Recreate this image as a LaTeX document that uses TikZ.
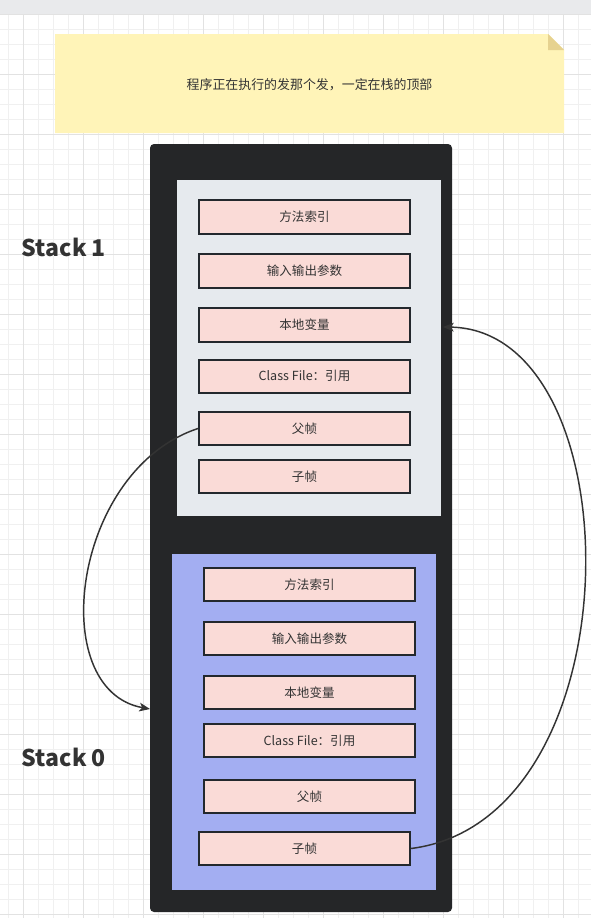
\documentclass[tikz,border=0pt]{standalone}
\usepackage{fontspec}
\setmainfont{Noto Sans CJK SC}
\newfontfamily\labelfont{Noto Sans CJK SC}
\usetikzlibrary{arrows.meta}
\definecolor{bandc}{HTML}{E9EAEC}
\definecolor{gridminor}{HTML}{F0F0F0}
\definecolor{gridmajor}{HTML}{E2E2E2}
\definecolor{notec}{HTML}{FFF4B8}
\definecolor{foldc}{HTML}{E6D290}
\definecolor{outerc}{HTML}{252628}
\definecolor{panelone}{HTML}{E6EAEE}
\definecolor{panelzero}{HTML}{A3AEF2}
\definecolor{boxfill}{HTML}{FADBD7}
\definecolor{boxline}{HTML}{23282D}
\definecolor{txt}{HTML}{333333}
\tikzset{
  framebox/.style={draw=boxline, line width=1.5pt, fill=boxfill, minimum width=158.25pt, minimum height=25.125pt, inner sep=0pt, text=txt, font=\fontsize{9.4pt}{11pt}\selectfont},
  panel/.style={minimum width=198pt, minimum height=252pt, inner sep=0pt},
  stacklabel/.style={text=txt, font=\labelfont\bfseries\fontsize{17.3pt}{20pt}\selectfont, inner sep=0pt},
  link/.style={draw=txt, line width=1.1pt, -{Stealth[length=8pt,width=6.5pt,inset=2pt]}}
}
\begin{document}
\begin{tikzpicture}[x=0.75pt,y=-0.75pt]
\useasboundingbox (0,0) rectangle (591,918);
\fill[white] (0,0) rectangle (591,918);
% grid
\foreach \k in {0,...,38} \draw[gridminor, line width=0.75pt] (8.3+15*\k,14.3) -- (8.3+15*\k,918);
\foreach \k in {0,...,60} \draw[gridminor, line width=0.75pt] (0,14.3+15*\k) -- (591,14.3+15*\k);
\foreach \k in {0,...,9} \draw[gridmajor, line width=0.75pt] (23.3+60*\k,14.3) -- (23.3+60*\k,918);
\foreach \k in {0,...,15} \draw[gridmajor, line width=0.75pt] (0,14.3+60*\k) -- (591,14.3+60*\k);
% top band
\fill[bandc] (0,0) rectangle (591,14.3);
% note
\fill[notec] (55,34) -- (548,34) -- (564,50) -- (564,133) -- (55,133) -- cycle;
\fill[foldc] (548,34) -- (564,50) -- (548,50) -- cycle;
\node[text=txt, font=\fontsize{9.7pt}{11pt}\selectfont] (note) at (309.5,84.5) {程序正在执行的发那个发，一定在栈的顶部};
% outer stack
\node[fill=outerc, rounded corners=3pt, minimum width=226.5pt, minimum height=576pt, inner sep=0pt] (outer) at (301,528) {};
\node[panel, fill=panelone] (panel1) at (309,348) {};
\node[panel, fill=panelzero] (panel0) at (304,722) {};
% stack 1 frames
\node[framebox] (a1) at (304.5,216.75) {方法索引};
\node[framebox] (a2) at (304.5,270.75) {输入输出参数};
\node[framebox] (a3) at (304.5,324.75) {本地变量};
\node[framebox] (a4) at (304.5,376.3) {Class File：引用};
\node[framebox] (a5) at (304.5,428.5) {父帧};
\node[framebox] (a6) at (304.5,476.5) {子帧};
% stack 0 frames
\node[framebox] (b1) at (309.5,584.5) {方法索引};
\node[framebox] (b2) at (309.5,638.5) {输入输出参数};
\node[framebox] (b3) at (309.5,692.5) {本地变量};
\node[framebox] (b4) at (309.5,740.5) {Class File：引用};
\node[framebox] (b5) at (309.5,796.5) {父帧};
\node[framebox] (b6) at (304.5,848.5) {子帧};
% labels
\node[stacklabel] (l1) at (64,247) {Stack 1};
\node[stacklabel] (l0) at (64,757) {Stack 0};
% connectors
\coordinate (in0) at (150,709);
\coordinate (in1) at (443,327);
\draw[link] (a5.west) .. controls (72,470) and (45,690) .. (in0);
\draw[link] (b6.east) .. controls (638,820) and (636,330) .. (in1);
\end{tikzpicture}
\end{document}
